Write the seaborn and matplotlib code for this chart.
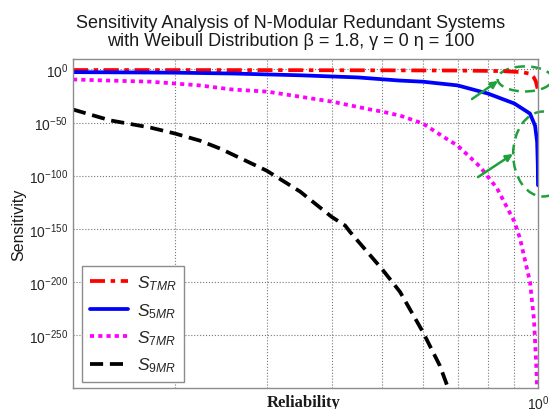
import numpy as np
import pandas as pd
import matplotlib
matplotlib.use("Agg")
import matplotlib.pyplot as plt
import seaborn as sns
from matplotlib.patches import Ellipse
from matplotlib.ticker import NullLocator, FixedLocator, NullFormatter

# ---- data (y stored as log10 of sensitivity) ----
r_tmr = [0.127, 0.3, 0.5, 0.7, 0.85, 0.93, 0.965, 0.98, 0.99, 0.998]
log_tmr = [-0.5, -0.6, -0.8, -1.0, -1.5, -2.5, -4.0, -7.0, -11.0, -18.0]

r_5mr = [0.127, 0.2, 0.258, 0.35, 0.45, 0.54, 0.6, 0.7, 0.8, 0.9, 0.965, 0.987, 0.996, 0.999, 0.9999]
log_5mr = [-2.5, -3.0, -3.8, -5.5, -7.5, -10.4, -11.5, -15.0, -22.6, -32.0, -41.5, -53.0, -68.0, -90.0, -109.0]

r_7mr = [0.127, 0.15, 0.179, 0.223, 0.258, 0.3, 0.4, 0.475, 0.5, 0.542, 0.6, 0.665, 0.7,
         0.773, 0.834, 0.9, 0.923, 0.965, 0.982, 0.991, 0.996]
log_7mr = [-9.4, -10.5, -11.5, -15.0, -18.9, -20.8, -30.2, -37.7, -39.6, -43.4, -50.9, -65.0, -71.7,
           -91.5, -112.0, -143.0, -159.0, -200.0, -235.0, -273.0, -300.0]

r_9mr = [0.127, 0.15, 0.179, 0.2, 0.223, 0.244, 0.3, 0.348, 0.4, 0.425, 0.434, 0.5, 0.542, 0.6, 0.647, 0.671]
log_9mr = [-37.7, -48.0, -54.7, -60.4, -67.0, -74.5, -95.3, -115.0, -138.7, -147.0, -152.8, -187.7,
           -209.4, -247.2, -279.0, -300.0]

labels = [r"$\mathit{S}_{\mathit{TMR}}$", r"$\mathit{S}_{\mathit{5MR}}$",
          r"$\mathit{S}_{\mathit{7MR}}$", r"$\mathit{S}_{\mathit{9MR}}$"]
y_ticks = [1e-250, 1e-200, 1e-150, 1e-100, 1e-50, 1e0]
x_grid = [0.2, 0.3, 0.4, 0.5, 0.6, 0.7, 0.8, 0.9]

# ---- style ----
sns.set_style("white")
plt.rcParams["font.family"] = ["Liberation Sans", "DejaVu Sans"]
plt.rcParams["mathtext.fontset"] = "custom"
plt.rcParams["mathtext.rm"] = "Liberation Sans"
plt.rcParams["mathtext.it"] = "Liberation Sans:italic"

fig = plt.figure(figsize=(5.49, 4.10), dpi=100)
ax = fig.add_axes([0.133, 0.051, 0.847, 0.803])
ax.set_xscale("log")
ax.set_yscale("log")

series = [
    (r_tmr, log_tmr, "#ff0000", (0, (4.0, 1.5, 1.2, 1.5))),
    (r_5mr, log_5mr, "#0000ff", "-"),
    (r_7mr, log_7mr, "#ff00ff", (0, (1.1, 1.1))),
    (r_9mr, log_9mr, "#000000", (0, (3.5, 1.8))),
]
for (rx, ly, col, ls), lab in zip(series, labels):
    df = pd.DataFrame({"R": rx, "S": np.power(10.0, np.array(ly))})
    sns.lineplot(data=df, x="R", y="S", ax=ax, color=col, linestyle=ls,
                 linewidth=2.7, label=lab, sort=False, estimator=None)

ax.set_xlim(0.127, 1.0)
ax.set_ylim(1e-300, 1e10)

ax.xaxis.set_major_locator(FixedLocator([1.0]))
ax.xaxis.set_minor_locator(FixedLocator(x_grid))
ax.xaxis.set_minor_formatter(NullFormatter())
ax.yaxis.set_major_locator(FixedLocator(y_ticks))
ax.yaxis.set_minor_locator(NullLocator())
ax.yaxis.set_minor_formatter(NullFormatter())
ax.grid(True, which="major", axis="y", linestyle=":", color="#777777", linewidth=0.8)
ax.grid(True, which="both", axis="x", linestyle=":", color="#777777", linewidth=0.8)
ax.tick_params(axis="both", which="both", direction="in", length=3, labelsize=10,
               colors="#333333", labelcolor="#262626")
ax.tick_params(axis="x", which="minor", length=2)
for s in ax.spines.values():
    s.set_color("#8c8c8c")
    s.set_linewidth(1.0)

ax.set_xlabel("")
ax.set_ylabel("Sensitivity", fontsize=11.5, color="#1a1a1a", labelpad=2)

fig.text(0.530, 0.878,
         "Sensitivity Analysis of N-Modular Redundant Systems\n"
         "with Weibull Distribution \u03b2 = 1.8, \u03b3 = 0 \u03b7 = 100",
         ha="center", va="bottom", fontsize=13, linespacing=1.05, color="#1a1a1a")
fig.text(0.553, 0.017, "Reliability", ha="center", va="center", fontsize=12,
         fontweight="bold", family="Liberation Serif", color="#1a1a1a")

leg = ax.legend(loc="lower left", bbox_to_anchor=(0.019, 0.018), fontsize=12.5,
                frameon=True, fancybox=False, framealpha=1, edgecolor="#8c8c8c",
                handlelength=2.2, labelspacing=0.5, borderpad=0.45, handletextpad=0.5,
                borderaxespad=0)
leg.get_frame().set_linewidth(1.0)

# ---- green annotation marks ----
green = "#1fa03c"
e1 = Ellipse((0.972, 0.939), 0.118, 0.076, transform=ax.transAxes, fill=False,
             edgecolor=green, linestyle=(0, (4, 2.5)), linewidth=1.8, clip_on=False)
e2 = Ellipse((1.011, 0.711), 0.129, 0.258, transform=ax.transAxes, fill=False,
             edgecolor=green, linestyle=(0, (4, 2.5)), linewidth=1.8, clip_on=False)
ax.add_patch(e1)
ax.add_patch(e2)
for start, end in [((0.858, 0.878), (0.914, 0.933)), ((0.871, 0.641), (0.946, 0.711))]:
    ax.annotate("", xy=end, xytext=start, xycoords="axes fraction",
                textcoords="axes fraction", annotation_clip=False,
                arrowprops=dict(arrowstyle="-|>", color=green, lw=1.8,
                                mutation_scale=10, shrinkA=0, shrinkB=0))

fig.savefig("out.png", dpi=100, facecolor="white")
